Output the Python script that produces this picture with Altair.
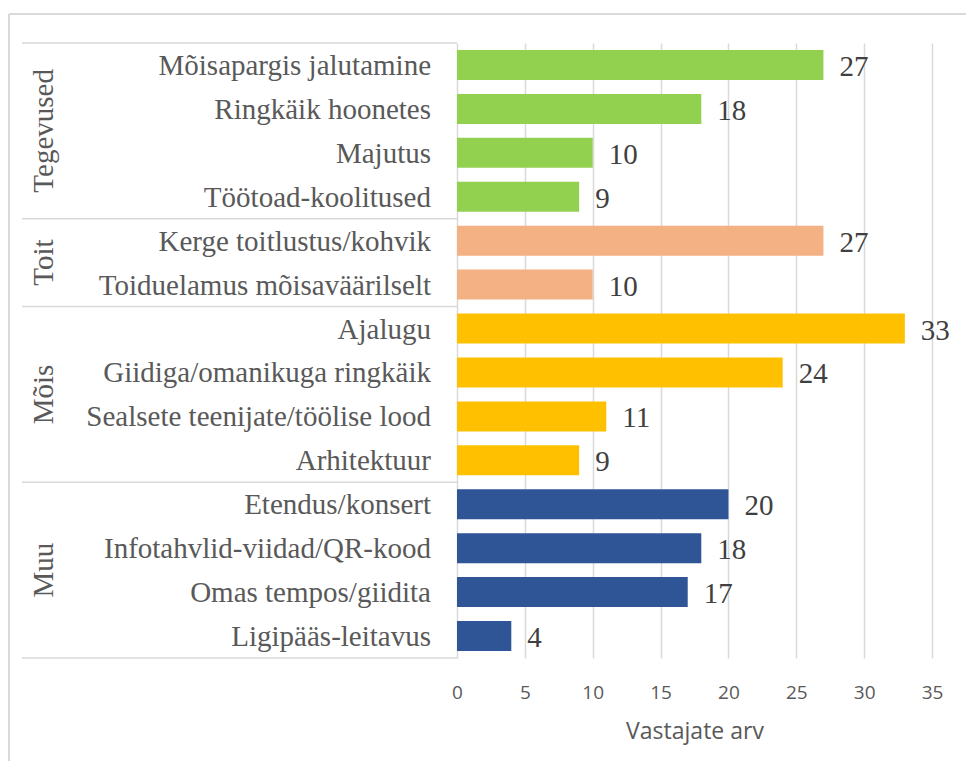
import altair as alt
import pandas as pd

# ---- data ----
categories = [
    "Mõisapargis jalutamine", "Ringkäik hoonetes", "Majutus", "Töötoad-koolitused",
    "Kerge toitlustus/kohvik", "Toiduelamus mõisaväärilselt",
    "Ajalugu\u00a0", "Giidiga/omanikuga ringkäik", "Sealsete teenijate/töölise lood", "Arhitektuur",
    "Etendus/konsert", "Infotahvlid-viidad/QR-kood", "Omas tempos/giidita", "Ligipääs-leitavus",
]
values = [27, 18, 10, 9, 27, 10, 33, 24, 11, 9, 20, 18, 17, 4]
group_names = ["Tegevused", "Toit", "Mõis", "Muu"]
group_sizes = [4, 2, 4, 4]
group_colors = ["#92D050", "#F4B183", "#FFC000", "#2F5597"]
x_ticks = [0, 5, 10, 15, 20, 25, 30, 35]
x_title = "Vastajate arv"

# ---- tables ----
rows_group = []
for g, n in zip(group_names, group_sizes):
    rows_group += [g] * n
df = pd.DataFrame({
    "cat": categories,
    "val": values,
    "grp": rows_group,
    "pos": [i + 0.5 for i in range(len(categories))],
})

bounds = [0]
for n in group_sizes:
    bounds.append(bounds[-1] + n)
df_bounds = pd.DataFrame({"b": bounds})
df_groups = pd.DataFrame({
    "grp": group_names,
    "mid": [(bounds[i] + bounds[i + 1]) / 2 for i in range(len(group_names))],
})

W, H = 475, 615
n_rows = len(categories)

serif = "Liberation Serif"
sans = "Open Sans"
grid_col = "#D9D9D9"
txt_col = "#595959"

yscale = alt.Scale(domain=[0, n_rows], reverse=True, nice=False, zero=False, padding=0)
xscale = alt.Scale(domain=[0, 35], nice=False, padding=0)

base = alt.Chart(df)

bars = base.mark_bar(size=30, orient="horizontal").encode(
    x=alt.X("val:Q", scale=xscale,
            axis=alt.Axis(values=x_ticks, grid=True, gridColor=grid_col, gridWidth=1.5,
                          ticks=False, domain=False, labelFont=sans, labelFontSize=19,
                          labelColor=txt_col, labelPadding=25, labelFlush=False,
                          labelOverlap=False, title=x_title,
                          titleFont=sans, titleFontSize=23, titleFontWeight="normal",
                          titleColor=txt_col, titleY=80, titleBaseline="alphabetic")),
    y=alt.Y("pos:Q", scale=yscale, axis=None),
    color=alt.Color("grp:N", scale=alt.Scale(domain=group_names, range=group_colors), legend=None),
)

val_text = base.mark_text(align="left", baseline="middle", dx=16, dy=2,
                          font=serif, fontSize=29, color="#404040").encode(
    x=alt.X("val:Q", scale=xscale),
    y=alt.Y("pos:Q", scale=yscale, axis=None),
    text="val:Q",
)

cat_text = base.mark_text(align="right", baseline="middle", dy=1,
                          font=serif, fontSize=29, color=txt_col).encode(
    x=alt.value(-26),
    y=alt.Y("pos:Q", scale=yscale, axis=None),
    text="cat:N",
)

grp_text = alt.Chart(df_groups).mark_text(angle=270, align="center", baseline="alphabetic",
                                          font=serif, fontSize=29, color=txt_col).encode(
    x=alt.value(-404.5),
    y=alt.Y("mid:Q", scale=yscale, axis=None),
    text="grp:N",
)

sep = alt.Chart(df_bounds).mark_rule(color=grid_col, strokeWidth=1.5).encode(
    x=alt.value(-435), x2=alt.value(0),
    y=alt.Y("b:Q", scale=yscale, axis=None),
)

one = pd.DataFrame({"k": [0]})
border_top = alt.Chart(one).mark_rule(color=grid_col, strokeWidth=2).encode(
    x=alt.value(-448), x2=alt.value(509), y=alt.value(-29))
border_left = alt.Chart(one).mark_rule(color=grid_col, strokeWidth=2).encode(
    x=alt.value(-448), y=alt.value(-29), y2=alt.value(718))

chart = alt.layer(border_top, border_left, sep, bars, val_text, cat_text, grp_text).properties(
    width=W, height=H,
    padding={"left": 449, "top": 35, "right": 34, "bottom": 103},
    autosize=alt.AutoSizeParams(type="none"),
).configure_view(stroke=None)

chart.save("out.html", embed_options={"renderer": "svg", "actions": False})
